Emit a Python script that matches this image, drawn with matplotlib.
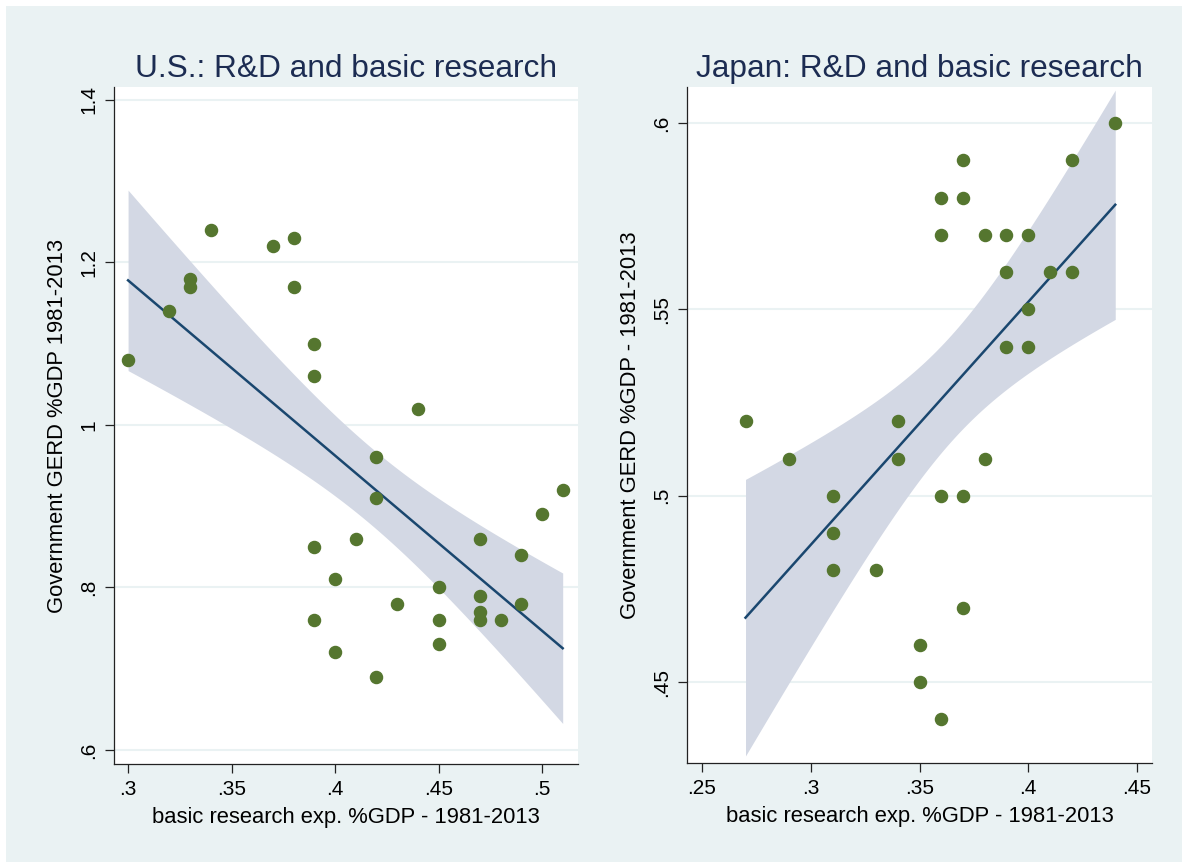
import numpy as np
import matplotlib
matplotlib.use("Agg")
import matplotlib.pyplot as plt
from matplotlib.patches import Rectangle

plt.rcParams['font.family'] = ['Liberation Sans', 'DejaVu Sans']

# U.S. observations: basic research exp. %GDP vs government GERD %GDP
us_basic = [0.30, 0.32, 0.33, 0.33, 0.34, 0.37, 0.38, 0.38, 0.39, 0.39,
            0.44, 0.42, 0.42, 0.39, 0.41, 0.40, 0.39, 0.40, 0.42, 0.43,
            0.45, 0.45, 0.45, 0.47, 0.47, 0.47, 0.47, 0.48, 0.49, 0.49,
            0.50, 0.51]
us_gerd = [1.08, 1.14, 1.18, 1.17, 1.24, 1.22, 1.23, 1.17, 1.10, 1.06,
           1.02, 0.96, 0.91, 0.85, 0.86, 0.81, 0.76, 0.72, 0.69, 0.78,
           0.80, 0.76, 0.73, 0.86, 0.79, 0.77, 0.76, 0.76, 0.84, 0.78,
           0.89, 0.92]

# Japan observations
jp_basic = [0.27, 0.29, 0.31, 0.31, 0.31, 0.33, 0.34, 0.34, 0.35, 0.35,
            0.36, 0.36, 0.37, 0.37, 0.38, 0.36, 0.36, 0.37, 0.37, 0.38,
            0.39, 0.40, 0.39, 0.41, 0.42, 0.42, 0.40, 0.39, 0.40, 0.44]
jp_gerd = [0.52, 0.51, 0.50, 0.49, 0.48, 0.48, 0.52, 0.51, 0.46, 0.45,
           0.44, 0.50, 0.50, 0.47, 0.51, 0.58, 0.57, 0.59, 0.58, 0.57,
           0.57, 0.57, 0.56, 0.56, 0.56, 0.59, 0.55, 0.54, 0.54, 0.60]

us_xticks = [0.3, 0.35, 0.4, 0.45, 0.5]
us_xlabels = ['.3', '.35', '.4', '.45', '.5']
us_yticks = [0.6, 0.8, 1.0, 1.2, 1.4]
us_ylabels = ['.6', '.8', '1', '1.2', '1.4']

jp_xticks = [0.25, 0.3, 0.35, 0.4, 0.45]
jp_xlabels = ['.25', '.3', '.35', '.4', '.45']
jp_yticks = [0.45, 0.5, 0.55, 0.6]
jp_ylabels = ['.45', '.5', '.55', '.6']

# two-sided 95% t quantiles by degrees of freedom
t975 = {28: 2.048, 30: 2.042}

BG = '#eaf2f3'
MARKER = '#55762f'
LINE = '#1a476f'
BAND = '#d3d8e4'
TITLE = '#1c2c52'


def lfitci(x, y, n_pts=100):
    x = np.asarray(x)
    y = np.asarray(y)
    n = len(x)
    b, a = np.polyfit(x, y, 1)
    resid = y - (a + b * x)
    s = np.sqrt(np.sum(resid ** 2) / (n - 2))
    sxx = np.sum((x - x.mean()) ** 2)
    xs = np.linspace(x.min(), x.max(), n_pts)
    fit = a + b * xs
    se = s * np.sqrt(1.0 / n + (xs - x.mean()) ** 2 / sxx)
    t = t975[n - 2]
    return xs, fit, fit - t * se, fit + t * se


def panel(ax, x, y, title, xlab, ylab, xt, xtl, yt, ytl, xlim, ylim):
    ax.set_facecolor('white')
    xs, fit, lo, hi = lfitci(x, y)
    ax.fill_between(xs, lo, hi, color=BAND, lw=0, zorder=2)
    ax.plot(xs, fit, color=LINE, lw=1.8, zorder=3)
    ax.plot(x, y, 'o', ms=8.7, color=MARKER, mec=MARKER, zorder=4)

    ax.set_xlim(*xlim)
    ax.set_ylim(*ylim)
    ax.set_xticks(xt)
    ax.set_xticklabels(xtl, fontsize=15)
    ax.set_yticks(yt)
    ax.set_yticklabels(ytl, fontsize=15, rotation=90, va='center')
    ax.tick_params(direction='out', length=6.5, width=0.9, color='#222222', pad=5)
    ax.grid(axis='y', color=BG, lw=1.5, zorder=1)
    ax.set_axisbelow(True)
    for side in ['top', 'right']:
        ax.spines[side].set_visible(False)
    for side in ['left', 'bottom']:
        ax.spines[side].set_color('#222222')
        ax.spines[side].set_linewidth(0.9)

    ax.set_xlabel(xlab, fontsize=15.8)
    ax.xaxis.set_label_coords(0.5, -54 / 677)
    ax.xaxis.label.set_va('center')
    ax.set_ylabel(ylab, fontsize=15.8)
    ax.yaxis.set_label_coords(-57 / 465, 0.5)
    ax.yaxis.label.set_va('center')
    ax.text(0.5, 1 + 18 / 677, title, transform=ax.transAxes, ha='center',
            va='center', fontsize=22.8, color=TITLE)


fig = plt.figure(figsize=(11.88, 8.66), dpi=100, facecolor='white')
fig.add_artist(Rectangle((6 / 1188, 4 / 866), 1176 / 1188, 856 / 866,
                         transform=fig.transFigure, facecolor=BG,
                         edgecolor='none', zorder=-10))

ax1 = fig.add_axes([114 / 1188, 102 / 866, 464 / 1188, 677 / 866])
ax2 = fig.add_axes([687 / 1188, 103 / 866, 465 / 1188, 676 / 866])

panel(ax1, us_basic, us_gerd, 'U.S.: R&D and basic research',
      'basic research exp. %GDP - 1981-2013', 'Government GERD %GDP 1981-2013',
      us_xticks, us_xlabels, us_yticks, us_ylabels,
      (0.2932, 0.5174), (0.5827, 1.416))
panel(ax2, jp_basic, jp_gerd, 'Japan: R&D and basic research',
      'basic research exp. %GDP - 1981-2013', 'Government GERD %GDP - 1981-2013',
      jp_xticks, jp_xlabels, jp_yticks, jp_ylabels,
      (0.2431, 0.4569), (0.4283, 0.6097))

fig.savefig('out.png', dpi=100, facecolor='white')
